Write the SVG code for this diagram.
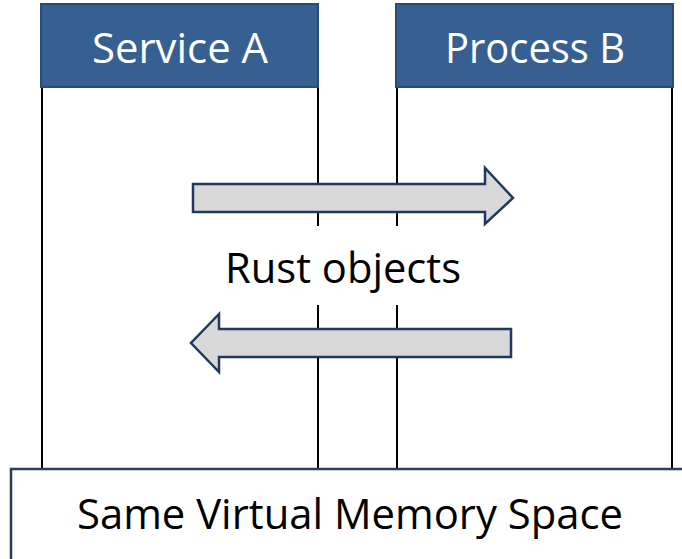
<svg xmlns="http://www.w3.org/2000/svg" width="682" height="559" viewBox="0 0 682 559">
  <style>
    .hdr { fill: #376092; stroke: #2a4b72; stroke-width: 2; }
    .hdr-text { fill: #ffffff; font-family: "Open Sans", "Liberation Sans", sans-serif; font-size: 42px; text-anchor: middle; }
    .life { stroke: #000000; stroke-width: 2; fill: none; }
    .arrow { fill: #d9d9d9; stroke: #1f3a5c; stroke-width: 2.5; stroke-linejoin: miter; }
    .label { fill: #000000; font-family: "Open Sans", "Liberation Sans", sans-serif; font-size: 42px; text-anchor: middle; }
    .space { fill: #ffffff; stroke: #2b3f58; stroke-width: 2.5; }
  </style>
  <rect width="682" height="559" fill="#ffffff"/>

  <!-- Service A: header and its boundary lines -->
  <g id="service-a">
    <line class="life" x1="42" y1="87" x2="42" y2="469"/>
    <line class="life" x1="318" y1="87" x2="318" y2="469"/>
    <rect class="hdr" x="41" y="4" width="277" height="83"/>
    <text class="hdr-text" x="180" y="63" textLength="176" lengthAdjust="spacingAndGlyphs">Service A</text>
  </g>

  <!-- Process B: header and its boundary lines -->
  <g id="process-b">
    <line class="life" x1="397" y1="87" x2="397" y2="469"/>
    <line class="life" x1="672" y1="87" x2="672" y2="469"/>
    <rect class="hdr" x="396" y="4" width="277" height="83"/>
    <text class="hdr-text" x="535" y="63" textLength="180" lengthAdjust="spacingAndGlyphs">Process B</text>
  </g>

  <!-- Shared label between the two regions -->
  <g id="rust-objects">
    <rect x="215" y="226" width="255" height="79" fill="#ffffff"/>
    <text class="label" x="343" y="283" textLength="236" lengthAdjust="spacingAndGlyphs">Rust objects</text>
  </g>

  <!-- Block arrows -->
  <g id="connectors">
    <path class="arrow" d="M193,184 L485,184 L485,168 L513,198 L485,224 L485,212 L193,212 Z"/>
    <path class="arrow" d="M511,329 L219,329 L219,314 L191,343 L219,372 L219,357 L511,357 Z"/>
  </g>

  <!-- Shared address space -->
  <g id="memory-space">
    <rect class="space" x="11" y="469" width="700" height="120"/>
    <text class="label" x="350" y="529" textLength="546" lengthAdjust="spacingAndGlyphs">Same Virtual Memory Space</text>
  </g>
</svg>
